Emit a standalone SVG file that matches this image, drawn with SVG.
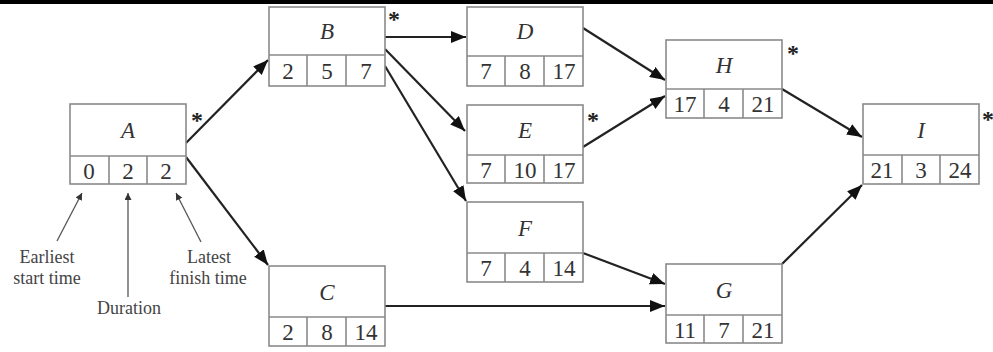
<svg xmlns="http://www.w3.org/2000/svg" width="993" height="352" viewBox="0 0 993 352">
<style>
.box{fill:#fff;stroke:#8a8a8a;stroke-width:1.6}
.div{stroke:#8a8a8a;stroke-width:1.6}
.nm{font-family:"Liberation Serif",serif;font-style:italic;font-size:23px;fill:#333;text-anchor:middle}
.num{font-family:"Liberation Serif",serif;font-size:23px;fill:#333;text-anchor:middle}
.star{font-family:"Liberation Serif",serif;font-weight:bold;font-size:24px;fill:#222;text-anchor:middle}
.lbl{font-family:"Liberation Serif",serif;font-size:18px;fill:#444;text-anchor:middle}
.con{stroke:#222;stroke-width:2.2;fill:none;marker-end:url(#ah)}
.ann{stroke:#555;stroke-width:1.3;fill:none;marker-end:url(#sh)}
</style>
<defs>
<marker id="ah" markerUnits="userSpaceOnUse" markerWidth="16" markerHeight="12" refX="15" refY="6" orient="auto">
<path d="M0,0 L15,6 L0,12 z" fill="#111"/>
</marker>
<marker id="sh" markerUnits="userSpaceOnUse" markerWidth="8" markerHeight="8" refX="7" refY="3.5" orient="auto">
<path d="M0,0 L7,3.5 L0,7 z" fill="#333"/>
</marker>
</defs>
<rect x="0" y="0" width="993" height="4" fill="#000"/>

<g id="connectors">
<path class="con" d="M186,143 L268,60"/>
<path class="con" d="M186,157 L268,265"/>
<path class="con" d="M385,37 L466,37"/>
<path class="con" d="M385,49 L465,131"/>
<path class="con" d="M385,66 L466,201"/>
<path class="con" d="M583,28 L665,80"/>
<path class="con" d="M583,147 L665,96"/>
<path class="con" d="M583,253 L665,284"/>
<path class="con" d="M385,306 L665,306"/>
<path class="con" d="M782,89 L862,137"/>
<path class="con" d="M782,264 L862,185"/>
<path class="ann" d="M57,241 L82,193"/>
<path class="ann" d="M128,297 L128,193"/>
<path class="ann" d="M201,242 L176,193"/>
</g>

<g id="node-A">
<rect class="box" x="70" y="104" width="116" height="80"/>
<line class="div" x1="70" y1="156" x2="186" y2="156"/>
<line class="div" x1="109" y1="156" x2="109" y2="184"/>
<line class="div" x1="147" y1="156" x2="147" y2="184"/>
<text class="nm" x="128" y="138">A</text>
<text class="num" x="89" y="179">0</text>
<text class="num" x="128" y="179">2</text>
<text class="num" x="166" y="179">2</text>
<text class="star" x="197" y="128">*</text>
</g>

<g id="node-B">
<rect class="box" x="269" y="7" width="116" height="79"/>
<line class="div" x1="269" y1="55" x2="385" y2="55"/>
<line class="div" x1="307" y1="55" x2="307" y2="86"/>
<line class="div" x1="346" y1="55" x2="346" y2="86"/>
<text class="nm" x="327" y="39">B</text>
<text class="num" x="288" y="79">2</text>
<text class="num" x="327" y="79">5</text>
<text class="num" x="366" y="79">7</text>
<text class="star" x="394" y="27">*</text>
</g>

<g id="node-C">
<rect class="box" x="269" y="266" width="116" height="80"/>
<line class="div" x1="269" y1="317" x2="385" y2="317"/>
<line class="div" x1="307" y1="317" x2="307" y2="346"/>
<line class="div" x1="346" y1="317" x2="346" y2="346"/>
<text class="nm" x="327" y="300">C</text>
<text class="num" x="288" y="340">2</text>
<text class="num" x="327" y="340">8</text>
<text class="num" x="366" y="340">14</text>
</g>

<g id="node-D">
<rect class="box" x="467" y="7" width="116" height="79"/>
<line class="div" x1="467" y1="56" x2="583" y2="56"/>
<line class="div" x1="505" y1="56" x2="505" y2="86"/>
<line class="div" x1="544" y1="56" x2="544" y2="86"/>
<text class="nm" x="525" y="39">D</text>
<text class="num" x="486" y="79">7</text>
<text class="num" x="525" y="79">8</text>
<text class="num" x="564" y="79">17</text>
</g>

<g id="node-E">
<rect class="box" x="467" y="105" width="116" height="78"/>
<line class="div" x1="467" y1="155" x2="583" y2="155"/>
<line class="div" x1="505" y1="155" x2="505" y2="183"/>
<line class="div" x1="544" y1="155" x2="544" y2="183"/>
<text class="nm" x="525" y="138">E</text>
<text class="num" x="486" y="178">7</text>
<text class="num" x="525" y="178">10</text>
<text class="num" x="564" y="178">17</text>
<text class="star" x="593" y="128">*</text>
</g>

<g id="node-F">
<rect class="box" x="467" y="202" width="116" height="80"/>
<line class="div" x1="467" y1="253" x2="583" y2="253"/>
<line class="div" x1="505" y1="253" x2="505" y2="282"/>
<line class="div" x1="544" y1="253" x2="544" y2="282"/>
<text class="nm" x="525" y="236">F</text>
<text class="num" x="486" y="276">7</text>
<text class="num" x="525" y="276">4</text>
<text class="num" x="564" y="276">14</text>
</g>

<g id="node-G">
<rect class="box" x="666" y="264" width="116" height="79"/>
<line class="div" x1="666" y1="315" x2="782" y2="315"/>
<line class="div" x1="704" y1="315" x2="704" y2="343"/>
<line class="div" x1="743" y1="315" x2="743" y2="343"/>
<text class="nm" x="724" y="298">G</text>
<text class="num" x="685" y="338">11</text>
<text class="num" x="724" y="338">7</text>
<text class="num" x="763" y="338">21</text>
</g>

<g id="node-H">
<rect class="box" x="666" y="40" width="116" height="78"/>
<line class="div" x1="666" y1="89" x2="782" y2="89"/>
<line class="div" x1="704" y1="89" x2="704" y2="118"/>
<line class="div" x1="743" y1="89" x2="743" y2="118"/>
<text class="nm" x="724" y="73">H</text>
<text class="num" x="685" y="112">17</text>
<text class="num" x="724" y="112">4</text>
<text class="num" x="763" y="112">21</text>
<text class="star" x="793" y="61">*</text>
</g>

<g id="node-I">
<rect class="box" x="863" y="104" width="116" height="80"/>
<line class="div" x1="863" y1="155" x2="979" y2="155"/>
<line class="div" x1="902" y1="155" x2="902" y2="184"/>
<line class="div" x1="940" y1="155" x2="940" y2="184"/>
<text class="nm" x="921" y="138">I</text>
<text class="num" x="882" y="178">21</text>
<text class="num" x="921" y="178">3</text>
<text class="num" x="960" y="178">24</text>
<text class="star" x="988" y="127">*</text>
</g>

<g id="legend">
<text class="lbl" x="47" y="263">Earliest</text>
<text class="lbl" x="47" y="284">start time</text>
<text class="lbl" x="129" y="314">Duration</text>
<text class="lbl" x="209" y="263">Latest</text>
<text class="lbl" x="208" y="284">finish time</text>
</g>
</svg>
